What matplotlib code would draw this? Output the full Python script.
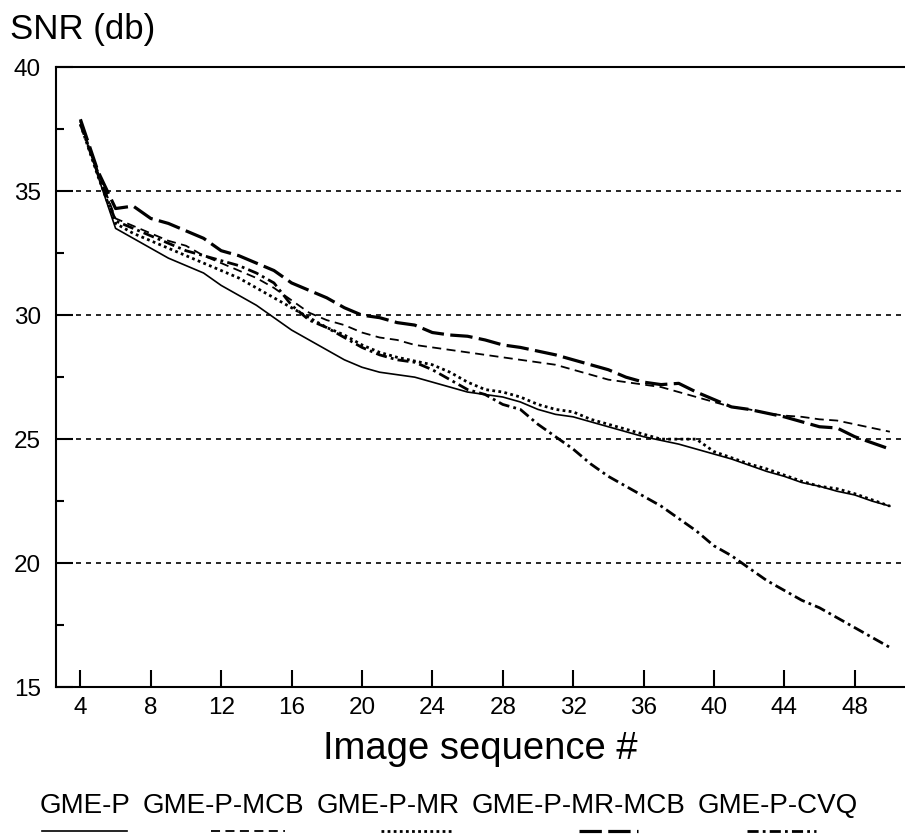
import matplotlib
matplotlib.use('Agg')
import matplotlib.pyplot as plt
from matplotlib.lines import Line2D
from matplotlib.ticker import MultipleLocator

plt.rcParams['font.family'] = ['Liberation Sans', 'DejaVu Sans']

# image sequence number
x = list(range(4, 51))

snr_p = [37.8, 35.6, 33.5, 33.1, 32.7, 32.3, 32.0, 31.7, 31.2, 30.8, 30.4, 29.9,
         29.4, 29.0, 28.6, 28.2, 27.9, 27.7, 27.6, 27.5, 27.3, 27.1, 26.9, 26.8,
         26.7, 26.5, 26.2, 26.0, 25.9, 25.7, 25.5, 25.3, 25.1, 24.95, 24.8, 24.6,
         24.4, 24.2, 23.95, 23.7, 23.5, 23.25, 23.1, 22.9, 22.75, 22.5, 22.3]

snr_mcb = [37.8, 35.8, 33.9, 33.6, 33.3, 33.0, 32.8, 32.4, 32.1, 31.8, 31.5, 31.1,
           30.6, 30.1, 29.8, 29.6, 29.3, 29.1, 29.0, 28.8, 28.7, 28.6, 28.5, 28.4,
           28.3, 28.2, 28.1, 28.0, 27.8, 27.6, 27.4, 27.3, 27.2, 27.1, 26.9, 26.7,
           26.5, 26.3, 26.2, 26.05, 25.95, 25.9, 25.8, 25.75, 25.6, 25.45, 25.3]

snr_mr = [37.7, 35.6, 33.7, 33.3, 33.0, 32.7, 32.4, 32.1, 31.8, 31.5, 31.1, 30.7,
          30.3, 29.9, 29.5, 29.2, 28.8, 28.5, 28.3, 28.15, 28.0, 27.7, 27.3, 27.0,
          26.9, 26.7, 26.4, 26.2, 26.1, 25.8, 25.6, 25.4, 25.2, 25.0, 25.0, 25.0,
          24.5, 24.25, 24.0, 23.8, 23.55, 23.3, 23.1, 23.0, 22.8, 22.55, 22.3]

snr_mr_mcb = [37.9, 35.8, 34.3, 34.4, 33.9, 33.7, 33.4, 33.1, 32.6, 32.4, 32.1, 31.8,
              31.3, 31.0, 30.7, 30.3, 30.0, 29.9, 29.7, 29.6, 29.3, 29.2, 29.15, 29.0,
              28.8, 28.7, 28.55, 28.4, 28.2, 28.0, 27.8, 27.5, 27.3, 27.2, 27.25, 26.9,
              26.6, 26.3, 26.2, 26.05, 25.9, 25.7, 25.5, 25.45, 25.1, 24.85, 24.6]

snr_cvq = [37.7, 35.7, 33.8, 33.5, 33.2, 32.9, 32.6, 32.4, 32.2, 32.0, 31.7, 31.3,
           30.4, 29.8, 29.5, 29.1, 28.7, 28.4, 28.2, 28.1, 27.8, 27.4, 27.0, 26.8,
           26.4, 26.2, 25.6, 25.1, 24.6, 24.0, 23.5, 23.1, 22.7, 22.3, 21.8, 21.3,
           20.7, 20.3, 19.8, 19.3, 18.9, 18.5, 18.2, 17.8, 17.4, 17.0, 16.6]

labels = ['GME-P', 'GME-P-MCB', 'GME-P-MR', 'GME-P-MR-MCB', 'GME-P-CVQ']

# line look for each series
styles = [
    dict(lw=1.2, ls='-'),
    dict(lw=1.3, ls=(0, (5, 3))),
    dict(lw=2.0, ls=(0, (1, 1.2))),
    dict(lw=2.3, ls=(0, (7, 2))),
    dict(lw=2.0, ls=(0, (4, 1.5, 1, 1.5))),
]
series = [snr_p, snr_mcb, snr_mr, snr_mr_mcb, snr_cvq]

fig = plt.figure(figsize=(9.05, 8.4), dpi=100)
ax = fig.add_axes([0.062, 0.182, 0.938, 0.738])

for y, st in zip(series, styles):
    ax.plot(x, y, color='black', **st)

ax.set_xlim(2.62, 50.86)
ax.set_ylim(15, 40)
ax.set_xticks(range(4, 49, 4))
ax.set_yticks(range(15, 41, 5))
ax.yaxis.set_minor_locator(MultipleLocator(2.5))

for v in [20, 25, 30, 35]:
    ax.axhline(v, color='black', lw=1.2, ls=(0, (3, 3)), zorder=0)

ax.spines['right'].set_visible(False)
for s in ['left', 'bottom', 'top']:
    ax.spines[s].set_linewidth(1.5)

ax.tick_params(axis='both', which='major', direction='in', length=12,
               width=1.5, labelsize=17.5)
ax.tick_params(axis='y', which='minor', direction='in', length=6, width=1.5)
ax.tick_params(axis='x', pad=7)
ax.tick_params(axis='y', pad=11)

ax.set_xlabel('Image sequence #', fontsize=27.5, labelpad=9)
fig.text(0.011, 0.985, 'SNR (db)', fontsize=25, ha='left', va='top')

# legend: labels in one row, a line sample under part of each label
W, H = 905, 840
under = [(0.02, 0.96), (0.42, 0.88), (0.45, 0.94), (0.50, 0.78), (0.31, 0.74)]
renderer = fig.canvas.get_renderer()
left = 40
for lab, (f0, f1), st in zip(labels, under, styles):
    t = fig.text(left / W, 1 - 806 / H, lab, fontsize=20, ha='left', va='center')
    w = t.get_window_extent(renderer).width
    fig.add_artist(Line2D([(left + f0 * w) / W, (left + f1 * w) / W],
                          [1 - 831 / H] * 2, color='black', **st))
    left += w + 12

fig.savefig('out.png', dpi=100)
